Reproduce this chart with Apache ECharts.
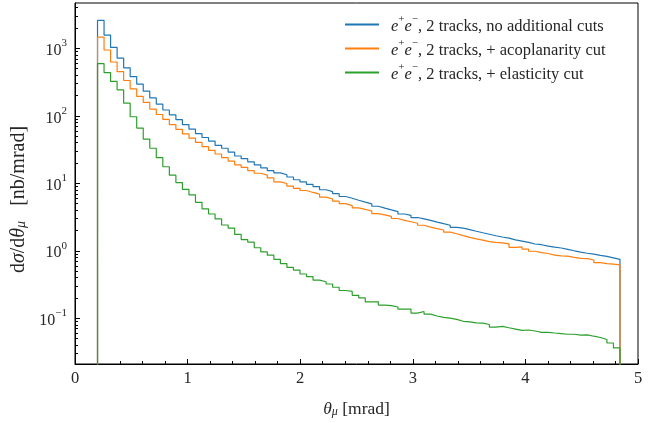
<!DOCTYPE html>
<html><head><meta charset="utf-8">
<script src="https://cdn.jsdelivr.net/npm/echarts@6/dist/echarts.min.js"></script>
<style>html,body{margin:0;padding:0;background:#fff}#c{width:662px;height:423px}</style>
</head><body><div id="c"></div>
<script>
// ---- data ----
const seriesNames = [
  'e+e−, 2 tracks, no additional cuts',
  'e+e−, 2 tracks, + acoplanarity cut',
  'e+e−, 2 tracks, + elasticity cut'
];
const binLow = 0.2, binHigh = 4.84, binCount = 80;
const noCuts = [2590,1572,1033,717,514,382,296,232,184,149,
  122,103.5,87.7,74.3,63.6,54.5,47.7,42.3,36.6,33.1,
  29.0,25.4,23.2,20.8,18.8,16.9,15.4,14.3,13.4,12.4,
  11.3,10.5,9.64,8.93,8.03,7.52,7.01,6.37,6.00,5.61,
  5.26,4.97,4.57,4.28,4.03,3.81,3.51,3.34,3.11,2.97,
  2.83,2.66,2.52,2.39,2.23,2.17,2.06,1.95,1.85,1.76,
  1.67,1.60,1.54,1.45,1.39,1.33,1.26,1.23,1.17,1.13,
  1.10,1.05,1.00,0.957,0.920,0.891,0.853,0.824,0.787,0.746];
const acoplanarityCut = [1471,945,628,451,334,251,194,158,126,104.6,
  88.6,74.3,62.9,53.9,46.7,40.4,35.0,30.7,27.2,24.0,
  21.3,18.8,17.2,15.4,14.1,13.2,12.0,10.5,9.93,9.08,
  8.42,7.82,7.32,6.90,6.24,5.86,5.43,5.00,4.68,4.33,
  4.12,3.87,3.56,3.41,3.23,3.01,2.82,2.69,2.56,2.39,
  2.24,2.13,2.03,1.89,1.79,1.68,1.58,1.50,1.44,1.37,
  1.33,1.31,1.27,1.12,1.14,1.06,0.984,0.942,0.911,0.861,
  0.841,0.833,0.801,0.774,0.767,0.730,0.667,0.645,0.633,0.618];
const elasticityCut = [594,436,323,243,154,96.9,65.8,45.2,33.1,24.0,
  17.6,13.2,10.25,8.13,6.74,5.23,4.19,3.51,2.97,2.41,
  2.16,1.75,1.465,1.34,1.11,0.962,0.861,0.746,0.646,0.566,
  0.518,0.453,0.415,0.367,0.348,0.322,0.288,0.258,0.250,0.219,
  0.200,0.175,0.175,0.157,0.154,0.147,0.137,0.137,0.119,0.126,
  0.115,0.108,0.103,0.1007,0.0964,0.0902,0.0882,0.0854,0.0845,0.0808,
  0.0739,0.0756,0.0723,0.0692,0.0662,0.0670,0.0647,0.0619,0.0619,0.0605,
  0.0592,0.0580,0.0580,0.0561,0.0567,0.0542,0.0519,0.0485,0.0430,0.0364];
const xTickValues = [0, 1, 2, 3, 4, 5];
const yTickExponents = [-1, 0, 1, 2, 3];
const yRange = [0.021, 4700];

// ---- build ----
const FONT = 'Liberation Serif';
const TXT = '#262626';
const colors = ['#1f77b4', '#ff7f0e', '#2ca02c'];
const binWidth = (binHigh - binLow) / binCount;
function stepPoints(vals) {
  const floor = 1e-4;
  const pts = [[binLow, floor]];
  vals.forEach((v, i) => {
    pts.push([binLow + i * binWidth, v]);
    pts.push([binLow + (i + 1) * binWidth, v]);
  });
  pts.push([binHigh, floor]);
  return pts;
}
const majorY = yTickExponents.map(e => Math.pow(10, e));
const minorY = [];
for (let e = -2; e <= 3; e++) for (let k = 2; k <= 9; k++) {
  const v = k * Math.pow(10, e);
  if (v > yRange[0] && v < yRange[1]) minorY.push(v);
}
const sup = s => s.replace('-', '−');
function rich(size) {
  const lh = Math.round(size * 1.3);
  return {
    t: {fontFamily: FONT, fontSize: size, color: TXT, verticalAlign: 'bottom', lineHeight: lh},
    i: {fontFamily: FONT, fontSize: size, color: TXT, fontStyle: 'italic', verticalAlign: 'bottom', lineHeight: lh},
    s: {fontFamily: FONT, fontSize: Math.round(size * 0.68), color: TXT, verticalAlign: 'top', lineHeight: lh},
    b: {fontFamily: FONT, fontSize: Math.round(size * 0.68), color: TXT, fontStyle: 'italic', verticalAlign: 'bottom', lineHeight: Math.round(size * 1.05)}
  };
}
const legendLabel = name => {
  const rest = name.replace('e+e−', '');
  return '{i|e}{s|+}{i|e}{s|−}{t|' + rest + '}';
};
const chart = echarts.init(document.getElementById('c'), null, {renderer: 'canvas'});
chart.setOption({
  animation: false,
  backgroundColor: '#fff',
  grid: {left: 75, right: 24, top: 3, bottom: 49, show: true, borderColor: '#000', borderWidth: 1, backgroundColor: 'transparent'},
  legend: {
    orient: 'vertical', left: 345, top: 14, padding: 0, itemWidth: 34, itemHeight: 2, icon: 'rect', itemGap: 3,
    data: seriesNames, formatter: legendLabel,
    textStyle: {fontFamily: FONT, fontSize: 16.5, color: TXT, padding: [0, 0, 0, 7], rich: rich(16.5)}
  },
  xAxis: {
    type: 'value', min: 0, max: 5, interval: 1,
    name: '{i|θ}{b|μ}{t| [mrad]}', nameLocation: 'middle', nameGap: 31,
    nameTextStyle: {rich: rich(17.5)},
    axisLine: {show: true, lineStyle: {color: '#000', width: 1}},
    axisTick: {show: true, inside: true, length: 5, lineStyle: {color: '#000'}},
    minorTick: {show: true, splitNumber: 5, length: 3, lineStyle: {color: '#000'}},
    axisLabel: {fontFamily: FONT, fontSize: 16.5, color: TXT, margin: 6,
      customValues: xTickValues, formatter: v => String(v)},
    splitLine: {show: false}
  },
  yAxis: [{
    type: 'log', logBase: 10, min: yRange[0], max: yRange[1],
    name: '{t|d}{i|σ}{t|/d}{i|θ}{b|μ}{t|   [nb/mrad]}', nameLocation: 'middle', nameGap: 34, nameRotate: 90,
    nameTextStyle: {rich: rich(20), padding: [0, 32, 0, 0]},
    axisLine: {show: true, lineStyle: {color: '#000', width: 1}},
    axisTick: {show: true, inside: true, length: 5, customValues: majorY, lineStyle: {color: '#000'}},
    axisLabel: {margin: 8, customValues: majorY,
      formatter: v => '{t|10}{s|' + sup(String(Math.round(Math.log10(v)))) + '}', rich: rich(16)},
    splitLine: {show: false}
  }, {
    type: 'log', logBase: 10, min: yRange[0], max: yRange[1], position: 'left', offset: 0,
    axisLine: {show: false},
    axisTick: {show: true, inside: true, length: 3, customValues: minorY, lineStyle: {color: '#000'}},
    axisLabel: {show: false},
    splitLine: {show: false}
  }],
  series: [noCuts, acoplanarityCut, elasticityCut].map((vals, k) => ({
    name: seriesNames[k], type: 'line', data: stepPoints(vals), yAxisIndex: 0,
    symbol: 'none', clip: true, color: colors[k],
    lineStyle: {color: colors[k], width: 1.2}
  }))
});
</script></body></html>
